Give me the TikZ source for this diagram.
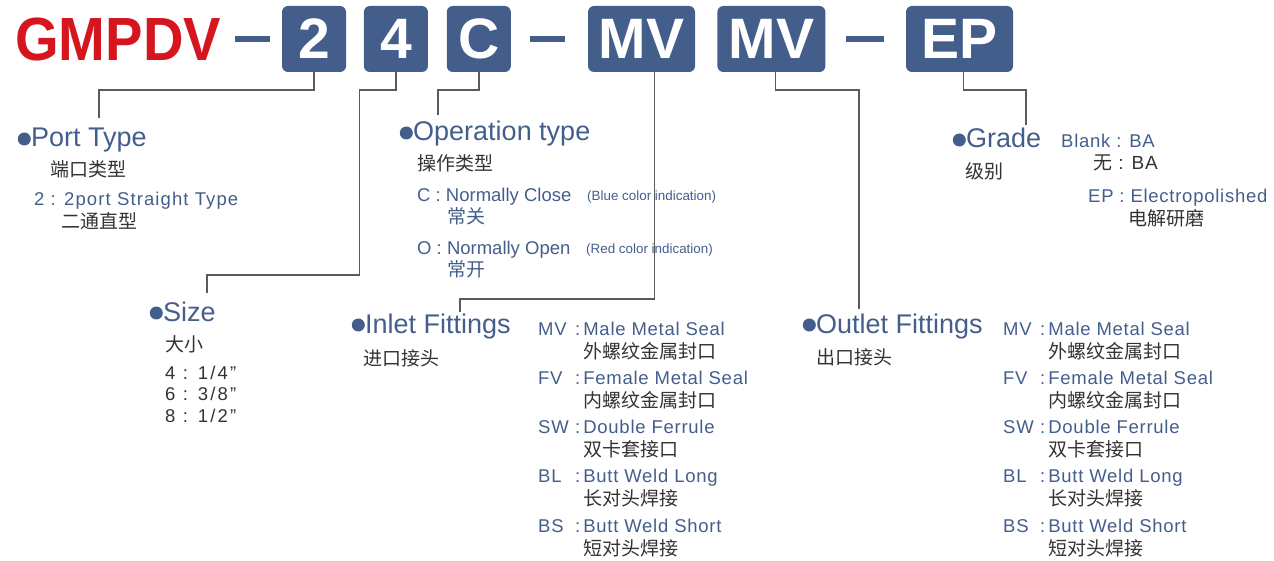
\documentclass[tikz,border=0pt]{standalone}
\usepackage{fontspec}
\setmainfont{Liberation Sans}
\newfontfamily\cjk{Noto Sans CJK SC}
\newfontfamily\spaced[LetterSpace=4]{Liberation Sans}
\newfontfamily\wide[LetterSpace=12]{Liberation Sans}
\newfontfamily\brandfont[FakeStretch=0.92]{Liberation Sans}
\usetikzlibrary{positioning}
\definecolor{gmblue}{HTML}{445E8C}
\definecolor{gmred}{HTML}{D6161F}
\definecolor{linegray}{HTML}{5A5A5A}
\definecolor{textgray}{HTML}{333333}
\tikzstyle{brand} = [anchor=base west, inner sep=0pt, text=gmred, font=\brandfont\bfseries\fontsize{61}{64}\selectfont]
\tikzstyle{codebox} = [rectangle, rounded corners=6pt, fill=gmblue, text=white, font=\bfseries\fontsize{57}{60}\selectfont, minimum width=64pt, minimum height=66pt, inner sep=0pt]
\tikzstyle{sepbar} = [rectangle, fill=gmblue, minimum width=35pt, minimum height=6.5pt, inner sep=0pt]
\tikzstyle{link} = [draw=linegray, line width=1.6pt]
\tikzstyle{bulletdot} = [circle, fill=gmblue, minimum size=13pt, inner sep=0pt]
\tikzstyle{heading} = [anchor=base west, inner sep=0pt, text=gmblue, font=\fontsize{27}{30}\selectfont, text height=21pt, text depth=5pt, label={[bulletdot]west:{}}]
\tikzstyle{cnline} = [anchor=base west, inner sep=0pt, text=textgray, font=\cjk\fontsize{19}{22}\selectfont]
\tikzstyle{optline} = [anchor=base west, inner sep=0pt, text=gmblue, font=\spaced\fontsize{18.5}{22}\selectfont]
\tikzstyle{noteline} = [anchor=base west, inner sep=0pt, text=gmblue, font=\fontsize{13.4}{16}\selectfont]

\begin{document}
\begin{tikzpicture}[x=1pt, y=-1pt]
\useasboundingbox (0,0) rectangle (1274,561);

\node (model) [brand] at (15,61) {GMPDV};
\node (s1) [sepbar] at (252.5,39) {};
\node (b2) [codebox] at (314,39) {2};
\node (b4) [codebox, right=17.5pt of b2] {4};
\node (bc) [codebox, right=18.5pt of b4] {C};
\node (s2) [sepbar] at (547.5,39) {};
\node (bin) [codebox, minimum width=107pt] at (641.5,39) {MV};
\node (bout) [codebox, minimum width=108pt, right=22pt of bin] {MV};
\node (s3) [sepbar, minimum width=38pt] at (865,39) {};
\node (bgr) [codebox, minimum width=107pt] at (959.5,39) {EP};

\node (port) [heading] at (31,147) {Port Type};
\node (porta) [cnline] at (50,177) {端口类型};
\node (port2) [optline, font=\spaced\addfontfeature{LetterSpace=6}\fontsize{18.5}{22}\selectfont] at (34,206) {2 : 2port Straight Type};
\node (port2cn) [cnline] at (61,229) {二通直型};

\node (oper) [heading] at (413,141) {Operation type};
\node (opera) [cnline] at (417,171) {操作类型};
\node (opc) [optline, font=\fontsize{18.5}{22}\selectfont] at (417,202) {C : Normally Close};
\node (opcnote) [noteline] at (587,201) {(Blue color indication)};
\node (opccn) [cnline, text=gmblue] at (447,224) {常关};
\node (opo) [optline, font=\fontsize{18.5}{22}\selectfont] at (417,255) {O : Normally Open};
\node (oponote) [noteline] at (586,254) {(Red color indication)};
\node (opocn) [cnline, text=gmblue] at (447,277) {常开};

\node (grade) [heading] at (966,148) {Grade};
\node (gradea) [cnline] at (965,179) {级别};
\node (gradeba) [optline] at (1061,148) {Blank : BA};
\node (gradebacn) [cnline] at (1093,170) {无{\spaced\ : BA}};
\node (gradeep) [optline] at (1088,203) {EP : Electropolished};
\node (gradeepcn) [cnline] at (1128,226) {电解研磨};

\node (size) [heading] at (163,321) {Size};
\node (sizea) [cnline] at (165,351) {大小};
\foreach \t [count=\i] in {{4 : 1/4”},{6 : 3/8”},{8 : 1/2”}}
  \node (size\i) [optline, text=textgray, font=\wide\fontsize{18.5}{22}\selectfont] at (165,{379+21.5*(\i-1)}) {\t};

\node (inlet) [heading] at (365,333) {Inlet Fittings};
\node (inleta) [cnline] at (363,365) {进口接头};
\node (outlet) [heading] at (816,333) {Outlet Fittings};
\node (outleta) [cnline] at (816,364) {出口接头};

\foreach \c/\e/\z [count=\i] in {MV/Male Metal Seal/外螺纹金属封口, FV/Female Metal Seal/内螺纹金属封口, SW/Double Ferrule/双卡套接口, BL/Butt Weld Long/长对头焊接, BS/Butt Weld Short/短对头焊接} {
  \node (inl\i) [optline] at (538,{335+49.25*(\i-1)}) {\makebox[37pt][l]{\c}:\hspace{3pt}\e};
  \node (inz\i) [cnline] at (583,{358+49.25*(\i-1)}) {\z};
  \node (outl\i) [optline] at (1003,{335+49.25*(\i-1)}) {\makebox[37pt][l]{\c}:\hspace{3pt}\e};
  \node (outz\i) [cnline] at (1048,{358+49.25*(\i-1)}) {\z};
}

\coordinate (portin) at (99,118);
\coordinate (sizein) at (207,293);
\coordinate (operin) at (438,115);
\coordinate (inletin) at (460,312);
\coordinate (outletin) at (859,309);
\coordinate (gradein) at (1026,125);

\draw [link] (b2.south) -- ++(0,18) -| (portin);
\draw [link] (b4.south) -- ++(0,18) -| ++(-36.5,185) -| (sizein);
\draw [link] (bc.south) -- ++(0,18) -| (operin);
\draw [link] ([xshift=13pt]bin.south) -- ++(0,227) -| (inletin);
\draw [link] ([xshift=4pt]bout.south) -- ++(0,18) -| (outletin);
\draw [link] ([xshift=4pt]bgr.south) -- ++(0,18) -| (gradein);

\end{tikzpicture}
\end{document}
